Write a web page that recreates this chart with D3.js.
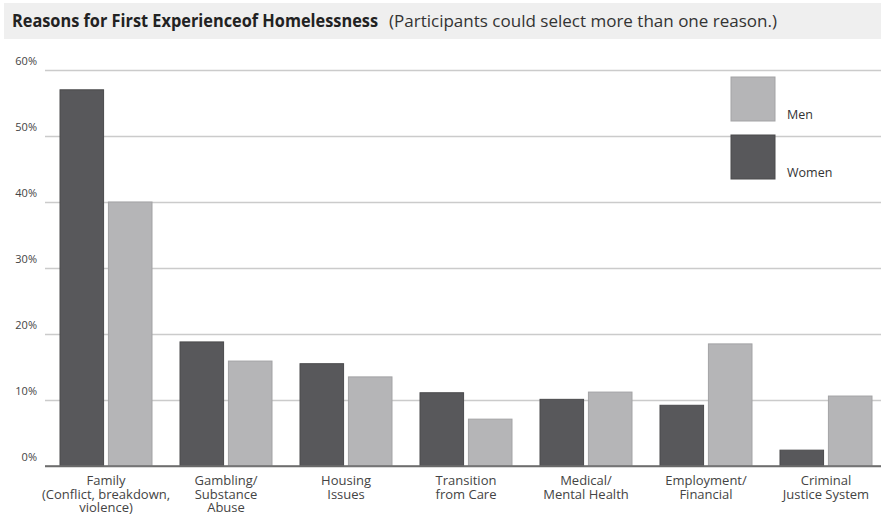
<!DOCTYPE html>
<html>
<head>
<meta charset="utf-8">
<script src="https://cdn.jsdelivr.net/npm/d3@7"></script>
<style>
  html, body { margin: 0; padding: 0; background: #fff; }
  svg { display: block; }
</style>
</head>
<body>
<svg id="chart" width="881" height="515"></svg>
<script>
const categories = [
  ["Family", "(Conflict, breakdown,", "violence)"],
  ["Gambling/", "Substance", "Abuse"],
  ["Housing", "Issues"],
  ["Transition", "from Care"],
  ["Medical/", "Mental Health"],
  ["Employment/", "Financial"],
  ["Criminal", "Justice System"]
];
const seriesNames = ["Women", "Men"];
const women = [57, 18.8, 15.5, 11.1, 10.1, 9.2, 2.4];
const men = [40, 15.9, 13.5, 7.1, 11.2, 18.5, 10.6];
const yTicks = [0, 10, 20, 30, 40, 50, 60];
const titleBold = "Reasons for First Experienceof Homelessness";
const titleNote = "(Participants could select more than one reason.)";

const colors = { Women: "#58585b", Men: "#b5b5b7" };
const strokes = { Women: "#4a4a4c", Men: "#a3a3a5" };
const font = "'Open Sans', 'Noto Sans', sans-serif";

const svg = d3.select("#chart");
const W = 881;

// Title band
svg.append("rect").attr("x", 4).attr("y", 3).attr("width", W - 4).attr("height", 36).attr("fill", "#efefef");
svg.append("text").attr("x", 12).attr("y", 27)
  .attr("font-family", font).attr("font-weight", 700).attr("font-size", 17)
  .attr("fill", "#222").attr("textLength", 366).attr("lengthAdjust", "spacingAndGlyphs")
  .text(titleBold);
svg.append("text").attr("x", 389).attr("y", 27)
  .attr("font-family", font).attr("font-weight", 400).attr("font-size", 17)
  .attr("fill", "#333").attr("textLength", 388).attr("lengthAdjust", "spacingAndGlyphs")
  .text(titleNote);

const plotLeft = 45, plotRight = W;
const y = d3.scaleLinear().domain([0, 60]).range([466, 70]);
const idx = d3.range(categories.length);
const x0 = d3.scaleBand().domain(idx).range([46, 886]).paddingInner(0.2333).paddingOuter(0.1167);
const x1 = d3.scaleBand().domain(seriesNames).range([0, x0.bandwidth()]).paddingInner(0.1);

// Grid + y labels
const yAxis = d3.axisLeft(y).tickValues(yTicks).tickSize(-(plotRight - plotLeft)).tickFormat(d => d + "%");
const gy = svg.append("g").attr("transform", `translate(${plotLeft},0)`).call(yAxis);
gy.select(".domain").remove();
gy.selectAll(".tick line").attr("stroke", d => d === 0 ? "#6e6e6e" : "#cbcbcb").attr("stroke-width", 1.5);
gy.selectAll(".tick text")
  .attr("x", -8).attr("dy", "-0.5em")
  .attr("font-family", font).attr("font-size", 11).attr("fill", "#444");

// Bars
const data = idx.map(i => ({ i, values: [{ key: "Women", v: women[i] }, { key: "Men", v: men[i] }] }));
const groups = svg.append("g").selectAll("g").data(data).join("g")
  .attr("transform", d => `translate(${x0(d.i)},0)`);
groups.selectAll("rect").data(d => d.values).join("rect")
  .attr("x", d => x1(d.key))
  .attr("y", d => y(d.v))
  .attr("width", x1.bandwidth())
  .attr("height", d => y(0) - y(d.v))
  .attr("fill", d => colors[d.key])
  .attr("stroke", d => strokes[d.key]).attr("stroke-width", 1);

// redraw baseline on top
svg.append("line").attr("x1", plotLeft).attr("x2", plotRight).attr("y1", y(0)).attr("y2", y(0))
  .attr("stroke", "#6e6e6e").attr("stroke-width", 1.5);

// X axis labels
const xAxis = d3.axisBottom(x0).tickSize(0).tickFormat("");
const gx = svg.append("g").attr("transform", `translate(0,${y(0)})`).call(xAxis);
gx.select(".domain").remove();
gx.selectAll(".tick").each(function(d) {
  const g = d3.select(this);
  categories[d].forEach((line, k) => {
    g.append("text")
      .attr("text-anchor", "middle").attr("font-family", font).attr("font-size", 13).attr("fill", "#444")
      .attr("x", 0).attr("y", 19 + k * 13.5).text(line);
  });
});

// Legend
const legend = [{ key: "Men", y: 77 }, { key: "Women", y: 135 }];
const lg = svg.append("g");
legend.forEach(l => {
  lg.append("rect").attr("x", 731).attr("y", l.y).attr("width", 44).attr("height", 44)
    .attr("fill", colors[l.key]).attr("stroke", strokes[l.key]).attr("stroke-width", 1);
  lg.append("text").attr("x", 787).attr("y", l.y + 42)
    .attr("font-family", font).attr("font-size", 12.5).attr("fill", "#333").text(l.key);
});
</script>
</body>
</html>
